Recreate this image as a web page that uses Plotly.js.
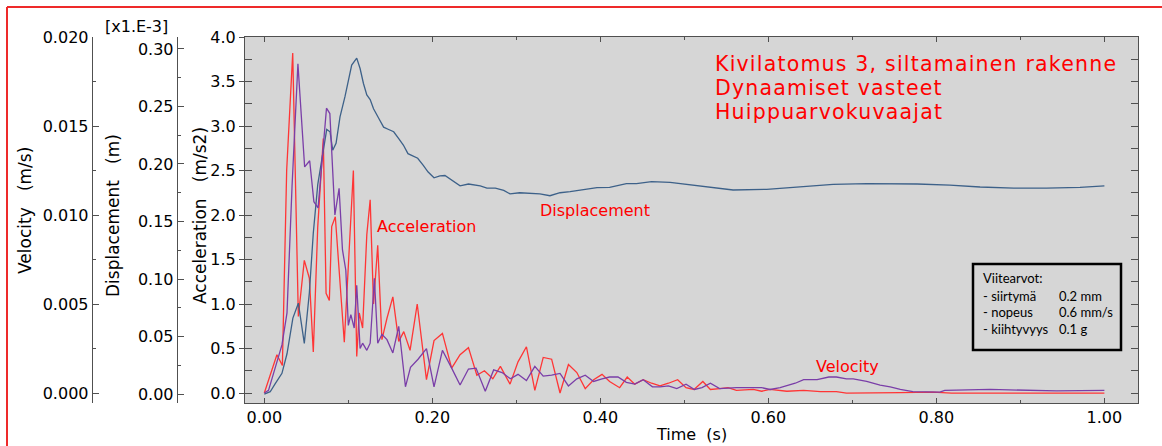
<!DOCTYPE html>
<html>
<head>
<meta charset="utf-8">
<script src="https://cdn.plot.ly/plotly-3.0.1.min.js"></script>
<style>html,body{margin:0;padding:0;background:#fff;}#chart{width:1162px;height:446px;}</style>
</head>
<body>
<div id="chart"></div>
<script>
// ---- Data ----
const accTime = [0, 0.015, 0.0215, 0.0266, 0.0338, 0.0405, 0.0476, 0.0536, 0.0583, 0.0636,
  0.0702, 0.0735, 0.0774, 0.0802, 0.0845, 0.0901, 0.0952, 0.106, 0.110, 0.113,
  0.117, 0.122, 0.126, 0.130, 0.135, 0.140, 0.146, 0.153, 0.160, 0.166,
  0.1735, 0.182, 0.193, 0.202, 0.212, 0.223, 0.233, 0.243, 0.253, 0.262,
  0.272, 0.281, 0.2925, 0.302, 0.312, 0.322, 0.332, 0.342, 0.352, 0.362,
  0.372, 0.382, 0.392, 0.402, 0.411, 0.423, 0.432, 0.441, 0.451, 0.461,
  0.471, 0.481, 0.492, 0.502, 0.5115, 0.522, 0.531, 0.542, 0.552, 0.562,
  0.582, 0.592, 0.602, 0.622, 0.642, 0.662, 0.681, 0.693, 0.709, 0.729,
  0.757, 0.796, 0.818, 0.864, 1.0];
const accValues = [0, 0.43, 0.31, 2.5, 3.82, 0.86, 1.49, 1.29, 0.46, 1.87,
  2.86, 1.12, 1.04, 1.87, 1.98, 1.19, 0.57, 2.5, 0.41, 0.9,
  0.73, 1.78, 2.17, 1.0, 1.66, 0.6, 0.84, 1.08, 0.58, 0.69,
  0.48, 1.0, 0.15, 0.59, 0.67, 0.28, 0.43, 0.51, 0.2, 0.25,
  0.16, 0.30, 0.10, 0.35, 0.52, 0.03, 0.40, 0.38, 0.0, 0.32,
  0.23, 0.05, 0.15, 0.21, 0.13, 0.06, 0.18, 0.10, 0.15, 0.11,
  0.08, 0.11, 0.15, 0.06, 0.04, 0.13, 0.04, 0.05, 0.06, 0.03,
  0.04, 0.02, 0.04, 0.02, 0.03, 0.015, 0.015, 0.0, 0.0, 0.005,
  0.005, 0.01, 0.0, 0.0, 0.0];

const velTime = [0, 0.005, 0.021, 0.027, 0.033, 0.040, 0.048, 0.054, 0.059, 0.064,
  0.074, 0.078, 0.084, 0.089, 0.093, 0.097, 0.100, 0.103, 0.107, 0.110,
  0.114, 0.117, 0.122, 0.126, 0.131, 0.135, 0.140, 0.146, 0.153, 0.160,
  0.168, 0.174, 0.183, 0.193, 0.202, 0.212, 0.223, 0.233, 0.243, 0.252,
  0.263, 0.273, 0.283, 0.293, 0.302, 0.312, 0.322, 0.332, 0.342, 0.352,
  0.362, 0.372, 0.382, 0.392, 0.402, 0.411, 0.421, 0.431, 0.441, 0.451,
  0.462, 0.471, 0.481, 0.491, 0.502, 0.512, 0.521, 0.531, 0.542, 0.562,
  0.592, 0.602, 0.614, 0.624, 0.632, 0.642, 0.658, 0.672, 0.681, 0.693,
  0.701, 0.717, 0.733, 0.745, 0.757, 0.772, 0.804, 0.810, 0.864, 0.943,
  1.0];
const velValues = [0, 0.00015, 0.0027, 0.0045, 0.0116, 0.0185, 0.0127, 0.01305, 0.01075, 0.0104,
  0.0160, 0.0157, 0.0100, 0.0115, 0.00805, 0.0069, 0.0038, 0.0044, 0.00365, 0.00605,
  0.0025, 0.0028, 0.0024, 0.0028, 0.00645, 0.0028, 0.0033, 0.0030, 0.00225, 0.00375,
  0.00035, 0.00145, 0.0019, 0.0025, 0.00035, 0.0024, 0.0014, 0.00045, 0.00135, 0.0014,
  0.0001, 0.0013, 0.00115, 0.0008, 0.00105, 0.0007, 0.0015, 0.00095, 0.0010, 0.0011,
  0.0004, 0.0008, 0.0010, 0.00065, 0.0008, 0.0009, 0.0009, 0.0006, 0.0005, 0.00075,
  0.00035, 0.00035, 0.0004, 0.00025, 0.0005, 0.0002, 0.0003, 0.00055, 0.00025, 0.0003,
  0.0003, 0.0002, 0.0003, 0.00045, 0.00055, 0.00075, 0.00075, 0.0009, 0.0009, 0.0008,
  0.0008, 0.00065, 0.00045, 0.00035, 0.0002, 0.000075, 0.00005, 0.00015, 0.0002, 0.000125,
  0.00015];

// displacement in units of 1e-3 m (axis shows [x1.E-3])
const dispTime = [0, 0.007, 0.013, 0.021, 0.027, 0.034, 0.0405, 0.0476, 0.0536, 0.0583,
  0.0636, 0.069, 0.0743, 0.0782, 0.0814, 0.0854, 0.0901, 0.096, 0.100, 0.104,
  0.110, 0.114, 0.118, 0.122, 0.126, 0.130, 0.136, 0.142, 0.148, 0.154,
  0.160, 0.1655, 0.171, 0.177, 0.1826, 0.189, 0.195, 0.202, 0.209, 0.215,
  0.233, 0.243, 0.257, 0.265, 0.275, 0.285, 0.2925, 0.304, 0.316, 0.328,
  0.340, 0.352, 0.364, 0.380, 0.396, 0.411, 0.431, 0.443, 0.461, 0.483,
  0.503, 0.523, 0.542, 0.558, 0.598, 0.638, 0.677, 0.717, 0.749, 0.777,
  0.816, 0.852, 0.892, 0.931, 0.971, 1.0];
const dispValues = [0, 0.002, 0.009, 0.018, 0.035, 0.066, 0.079, 0.044, 0.088, 0.140,
  0.182, 0.205, 0.230, 0.228, 0.212, 0.218, 0.241, 0.2585, 0.273, 0.286,
  0.292, 0.283, 0.270, 0.260, 0.256, 0.248, 0.240, 0.232, 0.230, 0.228,
  0.222, 0.2165, 0.209, 0.207, 0.205, 0.199, 0.193, 0.188, 0.1896, 0.190,
  0.181, 0.1826, 0.181, 0.179, 0.179, 0.177, 0.174, 0.175, 0.1745, 0.174,
  0.1724, 0.175, 0.176, 0.1774, 0.1794, 0.1797, 0.183, 0.183, 0.1846, 0.184,
  0.1823, 0.180, 0.179, 0.1774, 0.178, 0.180, 0.1823, 0.183, 0.183, 0.1826,
  0.1817, 0.180, 0.179, 0.179, 0.1797, 0.181];

const titleLines = ["Kivilatomus 3, siltamainen rakenne", "Dynaamiset vasteet", "Huippuarvokuvaajat"];
const refLabels = ["Viitearvot:", "- siirtymä", "- nopeus", "- kiihtyvyys"];
const refValues = ["", "0.2 mm", "0.6 mm/s", "0.1 g"];

// ---- Layout helpers (pixel -> paper) ----
const W = 1162, H = 446;
const PX = p => p / W;
const PY = p => 1 - p / H;
const FONT = "DejaVu Sans, Verdana, sans-serif";
const plotL = 245, plotR = 1138, plotT = 37, plotB = 403;
const axisCol = '#505050';
const TITLE_SIZE = 20.5, TITLE_LINE_PX = 24;

const traces = [
  {x: velTime, y: velValues, yaxis: 'y3', type: 'scatter', mode: 'lines',
   line: {color: '#7a3ea8', width: 1.3}, name: 'Velocity', showlegend: false},
  {x: dispTime, y: dispValues, yaxis: 'y2', type: 'scatter', mode: 'lines',
   line: {color: '#3d6189', width: 1.3}, name: 'Displacement', showlegend: false},
  {x: accTime, y: accValues, yaxis: 'y', type: 'scatter', mode: 'lines',
   line: {color: '#ff3535', width: 1.3}, name: 'Acceleration', showlegend: false},
  {x: [0], y: [0], yaxis: 'y4', type: 'scatter', mode: 'markers', opacity: 0,
   hoverinfo: 'skip', showlegend: false}
];

const annotations = [];
annotations.push({
  text: titleLines.join('<br>'), xref: 'paper', yref: 'paper', x: PX(714), y: PY(51),
  xanchor: 'left', yanchor: 'top', align: 'left', showarrow: false, borderpad: 0,
  font: {family: FONT, size: TITLE_SIZE, color: '#ff0000'}
});
const seriesLabels = [
  {t: 'Acceleration', x: 426.5, y: 226},
  {t: 'Displacement', x: 595, y: 210},
  {t: 'Velocity', x: 847, y: 366}
];
seriesLabels.forEach(s => annotations.push({
  text: s.t, xref: 'paper', yref: 'paper', x: PX(s.x), y: PY(s.y),
  xanchor: 'center', yanchor: 'middle', showarrow: false,
  font: {family: FONT, size: 16, color: '#ff0000'}
}));
const SP = '\u00a0\u00a0\u00a0';
const axisTitles = [
  {t: 'Velocity' + SP + '(m/s)', x: 25, y: 211},
  {t: 'Displacement' + SP + '(m)', x: 113, y: 216},
  {t: 'Acceleration' + SP + '(m/s2)', x: 200, y: 216}
];
axisTitles.forEach(s => annotations.push({
  text: s.t, xref: 'paper', yref: 'paper', x: PX(s.x), y: PY(s.y), textangle: -90,
  xanchor: 'center', yanchor: 'middle', showarrow: false,
  font: {family: FONT, size: 17, color: '#000'}
}));
annotations.push({text: 'Time\u00a0\u00a0(s)', xref: 'paper', yref: 'paper', x: PX(691), y: PY(434),
  xanchor: 'center', yanchor: 'middle', showarrow: false, font: {family: FONT, size: 16, color: '#000'}});
annotations.push({text: '[x1.E-3]', xref: 'paper', yref: 'paper', x: PX(136), y: PY(27),
  xanchor: 'center', yanchor: 'middle', showarrow: false, font: {family: FONT, size: 16, color: '#000'}});
const refRows = [278, 296, 312, 329];
refLabels.forEach((t, i) => {
  annotations.push({text: t, xref: 'paper', yref: 'paper', x: PX(981), y: PY(refRows[i]),
    xanchor: 'left', yanchor: 'middle', showarrow: false, font: {family: 'Lato, sans-serif', size: 13, color: '#000'}});
  if (refValues[i]) annotations.push({text: refValues[i], xref: 'paper', yref: 'paper', x: PX(1057), y: PY(refRows[i]),
    xanchor: 'left', yanchor: 'middle', showarrow: false, font: {family: 'Lato, sans-serif', size: 13, color: '#000'}});
});

const shapes = [
  {type: 'rect', xref: 'paper', yref: 'paper', x0: PX(973), x1: PX(1121), y0: PY(264), y1: PY(350),
   line: {color: '#000', width: 2.5}, fillcolor: '#d6d6d6', layer: 'above'},
  {type: 'line', xref: 'paper', yref: 'paper', x0: PX(7), x1: PX(1162), y0: PY(7), y1: PY(7),
   line: {color: '#ee2a2a', width: 2}},
  {type: 'line', xref: 'paper', yref: 'paper', x0: PX(7), x1: PX(7), y0: PY(7), y1: PY(446),
   line: {color: '#ee2a2a', width: 2}}
];

const yDomain = [PY(plotB), PY(plotT)];
const tickFont = {family: FONT, size: 16, color: '#000'};

const layout = {
  width: W, height: H,
  margin: {l: 0, r: 0, t: 0, b: 0, pad: 0},
  paper_bgcolor: '#ffffff', plot_bgcolor: '#d6d6d6',
  showlegend: false,
  xaxis: {domain: [PX(plotL), PX(plotR)], range: [-0.023, 1.04], anchor: 'y',
    dtick: 0.2, tick0: 0, tickformat: '.2f', ticks: 'inside', ticklen: 5, tickcolor: axisCol,
    minor: {dtick: 0.1, ticks: 'inside', ticklen: 3, tickcolor: axisCol},
    showline: true, linecolor: axisCol, mirror: 'ticks', showgrid: false, zeroline: false,
    tickfont: tickFont},
  yaxis: {domain: yDomain, range: [-0.112, 4.0], anchor: 'x', side: 'left',
    dtick: 0.5, tick0: 0, tickformat: '.1f', ticks: 'outside', ticklen: 5, tickcolor: axisCol,
    showline: true, linecolor: axisCol, mirror: true, showgrid: false, zeroline: false,
    tickfont: tickFont},
  yaxis4: {domain: yDomain, range: [-0.112, 4.0], overlaying: 'y', anchor: 'x', side: 'left',
    dtick: 0.25, tick0: 0, ticks: 'inside', ticklen: 7, tickcolor: axisCol, showticklabels: false,
    showline: false, mirror: 'ticks', showgrid: false, zeroline: false},
  yaxis2: {range: [-0.0078, 0.3104], overlaying: 'y', anchor: 'free', position: PX(176.7), side: 'left',
    dtick: 0.05, tick0: 0, tickformat: '.2f', ticks: 'inside', ticklen: 6, tickcolor: axisCol,
    minor: {dtick: 0.025, ticks: 'inside', ticklen: 3, tickcolor: axisCol},
    showline: true, linecolor: axisCol, showgrid: false, zeroline: false, tickfont: tickFont},
  yaxis3: {range: [-0.00056, 0.02], overlaying: 'y', anchor: 'free', position: PX(91.7), side: 'left',
    dtick: 0.005, tick0: 0, tickformat: '.3f', ticks: 'inside', ticklen: 6, tickcolor: axisCol,
    minor: {dtick: 0.0025, ticks: 'inside', ticklen: 3, tickcolor: axisCol},
    showline: true, linecolor: axisCol, showgrid: false, zeroline: false, tickfont: tickFont},
  annotations: annotations,
  shapes: shapes
};

Plotly.newPlot('chart', traces, layout, {displayModeBar: false, staticPlot: true}).then(gd => {
  // adjust the line spacing of the three-line red heading
  const k = TITLE_LINE_PX / (1.3 * TITLE_SIZE);
  gd.querySelectorAll('text.annotation-text').forEach(t => {
    if (t.textContent.indexOf('Kivilatomus') === 0) {
      t.style.letterSpacing = '1.2px';
      t.querySelectorAll('tspan.line').forEach(ts => {
        const dy = ts.getAttribute('dy');
        if (dy && /em$/.test(dy)) ts.setAttribute('dy', (parseFloat(dy) * k) + 'em');
      });
    }
  });
});
</script>
</body>
</html>
